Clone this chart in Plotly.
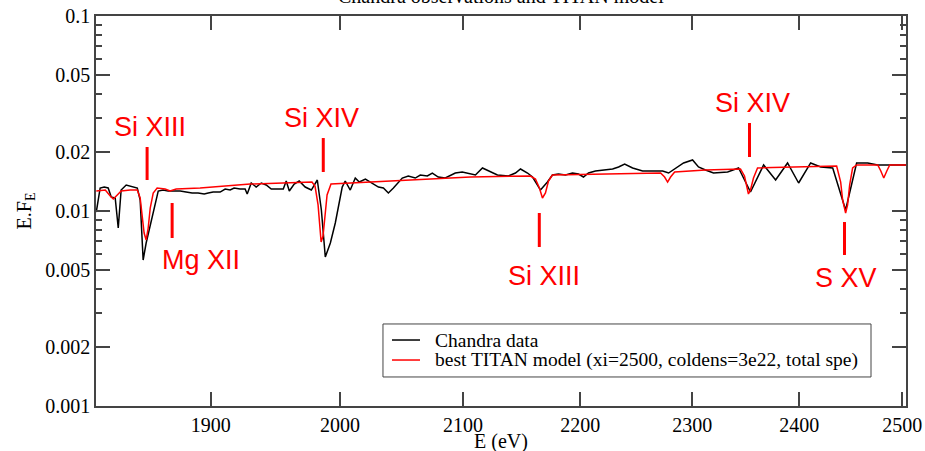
import numpy as np
import plotly.graph_objects as go

# Chandra data (energy eV, E.F_E)
data_E = [1815.5, 1818.3, 1821.2, 1824.1, 1826.3, 1829.2, 1831.4, 1833.5, 1837.2, 1841.6,
          1845.3, 1847.4, 1849.6, 1851.8, 1855.5, 1858.5, 1860.7, 1864.3, 1868.0, 1872.5,
          1877.0, 1881.4, 1885.9, 1890.4, 1895.0, 1898.0, 1901.7, 1907.0, 1910.8, 1914.6,
          1917.6, 1922.2, 1926.0, 1927.6, 1930.7, 1934.5, 1938.4, 1942.2, 1946.1, 1950.8,
          1955.4, 1957.7, 1960.1, 1963.9, 1967.8, 1972.5, 1977.3, 1982.0, 1985.2, 1988.3,
          1992.3, 1996.2, 2001.7, 2004.1, 2008.1, 2012.1, 2015.3, 2020.2, 2025.8, 2030.7,
          2034.7, 2038.7, 2042.8, 2050.0, 2054.9, 2060.6, 2064.7, 2070.5, 2074.6, 2079.5,
          2085.3, 2093.6, 2099.4, 2110.4, 2116.3, 2123.0, 2128.9, 2138.2, 2144.2, 2148.5,
          2154.5, 2158.8, 2161.3, 2165.6, 2171.6, 2175.9, 2181.1, 2187.2, 2193.3, 2198.5,
          2202.9, 2207.3, 2213.4, 2220.5, 2228.5, 2233.8, 2239.2, 2246.3, 2255.2, 2264.1,
          2273.2, 2278.6, 2285.0, 2292.2, 2300.4, 2305.8, 2312.2, 2319.6, 2332.6, 2342.8,
          2353.9, 2366.2, 2377.5, 2388.8, 2399.3, 2410.8, 2420.5, 2432.0, 2444.5, 2455.2,
          2466.0, 2475.9, 2488.7, 2503.8]
data_F = [0.00988, 0.01312, 0.01327, 0.01312, 0.01180, 0.01166, 0.00818, 0.01281, 0.01359, 0.01327,
          0.01312, 0.01139, 0.005607, 0.006853, 0.008992, 0.01100, 0.01266, 0.01281, 0.01266, 0.01266,
          0.01266, 0.01251, 0.01237, 0.01237, 0.01222, 0.01237, 0.01251, 0.01251, 0.01296, 0.01281,
          0.01312, 0.01296, 0.01296, 0.01222, 0.01392, 0.01327, 0.01392, 0.01359, 0.01296, 0.01296,
          0.01296, 0.01425, 0.01266, 0.01375, 0.01425, 0.01327, 0.01281, 0.01442, 0.01012, 0.005808,
          0.006853, 0.00868, 0.01327, 0.01425, 0.01281, 0.01476, 0.01408, 0.01459, 0.01392, 0.01327,
          0.01312, 0.01237, 0.01312, 0.01476, 0.01512, 0.01476, 0.01530, 0.01512, 0.01566, 0.01494,
          0.01476, 0.01566, 0.01585, 0.01530, 0.01662, 0.01585, 0.01530, 0.01512, 0.01566, 0.01642,
          0.01566, 0.01494, 0.01408, 0.01281, 0.01408, 0.01530, 0.01548, 0.01530, 0.01566, 0.01548,
          0.01494, 0.01566, 0.01604, 0.01623, 0.01642, 0.01682, 0.01742, 0.01662, 0.01604, 0.01604,
          0.01604, 0.01566, 0.01662, 0.01763, 0.01827, 0.01682, 0.01623, 0.01566, 0.01585, 0.01662,
          0.01251, 0.01722, 0.01442, 0.01763, 0.01392, 0.01763, 0.01682, 0.01662, 0.01012, 0.01763,
          0.01763, 0.01722, 0.01722, 0.01722]

# TITAN model
model_E = [1815.5, 1822.0, 1825.6, 1827.8, 1830.7, 1833.5, 1840.1, 1845.3, 1847.4, 1848.9,
           1850.3, 1851.8, 1853.3, 1854.8, 1857.0, 1859.9, 1865.8, 1869.5, 1874.0, 1891.9,
           1929.9, 1977.8, 1980.2, 1982.6, 1984.2, 1985.0, 1986.5, 1988.1, 1989.7, 1992.8,
           2008.1, 2052.5, 2106.2, 2157.0, 2161.3, 2164.7, 2167.3, 2169.9, 2172.5, 2175.9,
           2226.7, 2271.4, 2275.0, 2277.7, 2280.4, 2284.1, 2312.2, 2344.6, 2348.3, 2350.2,
           2352.0, 2353.9, 2356.7, 2360.5, 2401.2, 2435.8, 2439.7, 2441.6, 2444.5, 2446.4,
           2448.4, 2451.3, 2455.2, 2475.9, 2478.9, 2481.8, 2484.8, 2487.7, 2503.8]
model_F = [0.01266, 0.01281, 0.01194, 0.01152, 0.01208, 0.01266, 0.01281, 0.01281, 0.01166, 0.009539,
           0.007712, 0.007102, 0.008179, 0.01036, 0.01237, 0.01312, 0.01296, 0.01266, 0.01296, 0.01312,
           0.01375, 0.01408, 0.01343, 0.01074, 0.00799, 0.006934, 0.007442, 0.009652, 0.01208, 0.01375,
           0.01392, 0.01442, 0.01494, 0.01512, 0.01459, 0.01312, 0.01166, 0.01237, 0.01425, 0.01530,
           0.01548, 0.01566, 0.01494, 0.01408, 0.01494, 0.01585, 0.01623, 0.01642, 0.01512, 0.01343,
           0.01222, 0.01281, 0.01476, 0.01662, 0.01682, 0.01702, 0.01408, 0.01139, 0.009766, 0.01074,
           0.01359, 0.01662, 0.01722, 0.01722, 0.01604, 0.01476, 0.01604, 0.01722, 0.01722]

series_names = ["Chandra data", "best TITAN model (xi=2500, coldens=3e22, total spe)"]
series_colors = ["black", "#ff0000"]

# Line identifications
line_names = ["Si XIII", "Mg XII", "Si XIV", "Si XIII", "Si XIV", "S XV"]
line_E = [1852.5, 1871.0, 1986.7, 2164.6, 2353.0, 2443.4]
bar_lo = [0.01442, 0.007271, 0.01585, 0.006539, 0.01892, 0.005949]
bar_hi = [0.02129, 0.01099, 0.02367, 0.009766, 0.02826, 0.00878]
label_E = [1854.8, 1892.7, 1985.0, 2169.0, 2355.8, 2444.5]
label_F = [0.02696, 0.005607, 0.02998, 0.004642, 0.03579, 0.004533]

x_ticks = [1900, 2000, 2100, 2200, 2300, 2400, 2500]
y_ticks = [0.001, 0.002, 0.005, 0.01, 0.02, 0.05, 0.1]
y_ticktext = ["0.001", "0.002", "0.005", "0.01", "0.02", "0.05", "0.1"]
y_minor = [0.003, 0.004, 0.006, 0.007, 0.008, 0.009, 0.03, 0.04, 0.06, 0.07, 0.08, 0.09]

SERIF = "Liberation Serif"

fig = go.Figure()
fig.add_trace(go.Scatter(x=data_E, y=data_F, mode="lines", name=series_names[0], showlegend=False,
                         line=dict(color=series_colors[0], width=1.5)))
fig.add_trace(go.Scatter(x=model_E, y=model_F, mode="lines", name=series_names[1], showlegend=False,
                         line=dict(color=series_colors[1], width=1.5)))

bx, by = [], []
for e, lo, hi in zip(line_E, bar_lo, bar_hi):
    bx += [e, e, None]
    by += [lo, hi, None]
fig.add_trace(go.Scatter(x=bx, y=by, mode="lines", showlegend=False, hoverinfo="skip",
                         line=dict(color="#ff0000", width=3)))

annotations = []
for name, e, f in zip(line_names, label_E, label_F):
    annotations.append(dict(x=np.log10(e), y=np.log10(f), xref="x", yref="y", text=name,
                            showarrow=False, xanchor="center", yanchor="middle",
                            font=dict(family="Liberation Sans, Arial", size=27, color="#ff0000")))
# chart title (partly above the visible area, as in the source image)
annotations.append(dict(x=0.5, y=1.0, xref="paper", yref="paper", yshift=7,
                        text="Chandra observations and TITAN model", showarrow=False,
                        xanchor="center", yanchor="bottom",
                        font=dict(family=SERIF, size=20, color="black")))
# x axis title
annotations.append(dict(x=0.5, y=0, xref="paper", yref="paper", yshift=-35,
                        text="E (eV)", showarrow=False, xanchor="center", yanchor="middle",
                        font=dict(family=SERIF, size=20, color="black")))

# legend box drawn in paper coordinates
shapes = [dict(type="rect", xref="paper", yref="paper", x0=0.3543, x1=0.9568, y0=0.0744, y1=0.2103,
               line=dict(color="#444", width=1), fillcolor="white", layer="above")]
legend_rows = [0.1692, 0.1179]
for name, color, ry in zip(series_names, series_colors, legend_rows):
    shapes.append(dict(type="line", xref="paper", yref="paper", x0=0.3654, x1=0.4, y0=ry, y1=ry,
                       line=dict(color=color, width=1.5), layer="above"))
    annotations.append(dict(x=0.4160, y=ry, xref="paper", yref="paper", text=name, showarrow=False,
                            xanchor="left", yanchor="middle",
                            font=dict(family=SERIF, size=19.5, color="black")))

axis_common = dict(showline=True, linecolor="#444", linewidth=1.5, mirror="allticks",
                   ticks="inside", ticklen=14, tickcolor="#444", tickwidth=1.5,
                   showgrid=False, zeroline=False, automargin=False,
                   tickfont=dict(family=SERIF, size=20, color="black"))

fig.update_layout(
    width=925, height=451,
    margin=dict(l=96, r=19, t=16, b=45),
    paper_bgcolor="white", plot_bgcolor="white",
    showlegend=False,
    annotations=annotations,
    shapes=shapes,
    xaxis=dict(type="log", range=[np.log10(1815.3), np.log10(2503.8)],
               tickmode="array", tickvals=x_ticks, ticktext=[str(v) for v in x_ticks],
               **axis_common),
    yaxis=dict(type="log", range=[-3, -1],
               tickmode="array", tickvals=y_ticks, ticktext=y_ticktext,
               minor=dict(tickmode="array", tickvals=y_minor, ticks="inside", ticklen=6,
                          tickcolor="#444", tickwidth=1.5, showgrid=False),
               title=dict(text="E.F<sub>E</sub>", font=dict(family=SERIF, size=20, color="black"), standoff=8),
               **axis_common),
)

fig.write_html("out.html")
